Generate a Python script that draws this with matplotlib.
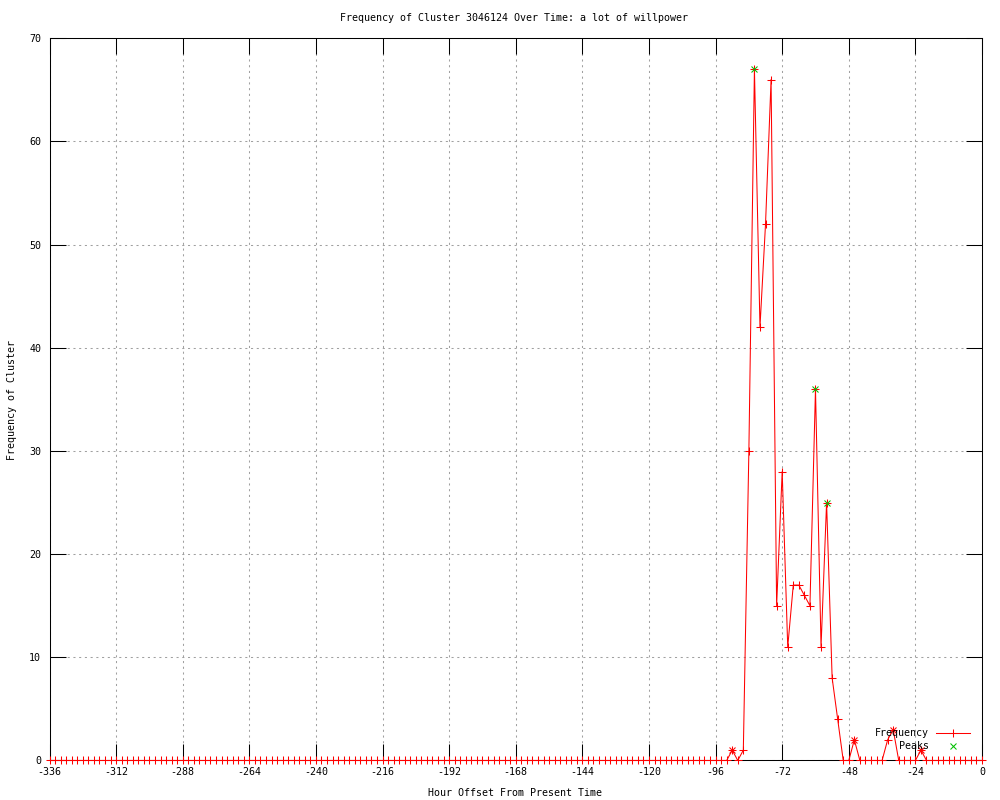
import numpy as np
import matplotlib
matplotlib.use('Agg')
import matplotlib.pyplot as plt

# hours before now, one sample every 2 hours
hours = np.arange(-336, 1, 2)

# frequency per sample, -336 .. 0
freq = [0, 0, 0, 0, 0, 0, 0, 0, 0, 0, 0, 0, 0, 0, 0, 0, 0, 0, 0, 0,
        0, 0, 0, 0, 0, 0, 0, 0, 0, 0, 0, 0, 0, 0, 0, 0, 0, 0, 0, 0,
        0, 0, 0, 0, 0, 0, 0, 0, 0, 0, 0, 0, 0, 0, 0, 0, 0, 0, 0, 0,
        0, 0, 0, 0, 0, 0, 0, 0, 0, 0, 0, 0, 0, 0, 0, 0, 0, 0, 0, 0,
        0, 0, 0, 0, 0, 0, 0, 0, 0, 0, 0, 0, 0, 0, 0, 0, 0, 0, 0, 0,
        0, 0, 0, 0, 0, 0, 0, 0, 0, 0, 0, 0, 0, 0, 0, 0, 0, 0, 0, 0,
        0, 0, 0,
        1, 0, 1, 30, 67, 42, 52, 66, 15, 28,
        11, 17, 17, 16, 15, 36, 11, 25, 8, 4,
        0, 0, 2, 0, 0, 0, 0, 0, 2, 3,
        0, 0, 0, 0, 1, 0, 0, 0, 0, 0,
        0, 0, 0, 0, 0, 0]

# detected peaks (green) and small local maxima (red x)
peak_hours = [-82, -60, -56]
peak_vals = [67, 36, 25]
small_hours = [-90, -46, -32, -22]
small_vals = [1, 2, 3, 1]

x_ticks = list(range(-336, 1, 24))
y_ticks = list(range(0, 71, 10))

title = "Frequency of Cluster 3046124 Over Time: a lot of willpower"
xlabel = "Hour Offset From Present Time"
ylabel = "Frequency of Cluster"

plt.rcParams['font.family'] = ['DejaVu Sans Mono']
plt.rcParams['font.size'] = 7.2
plt.rcParams['axes.unicode_minus'] = False

fig = plt.figure(figsize=(10, 8), dpi=100)
ax = fig.add_axes([0.0495, 0.0494, 0.9325, 0.9028])

red = '#ff0000'
green = '#00c000'

line, = ax.plot(hours, freq, color=red, lw=0.75, marker='+', ms=5.5, mew=0.75,
                clip_on=False, zorder=3)
ax.plot(small_hours, small_vals, ls='none', color=red, marker='x', ms=4.5,
        mew=0.75, zorder=4)
peaks, = ax.plot(peak_hours, peak_vals, ls='none', color=green, marker='x',
                 ms=5, mew=0.75, zorder=5)

ax.set_xlim(-336, 0)
ax.set_ylim(0, 70)
ax.set_xticks(x_ticks)
ax.set_yticks(y_ticks)

# gnuplot style ticks: inward, on all four sides
ax.tick_params(direction='in', length=11.5, width=0.75, top=True, right=True,
               colors='black', labelsize=7.2)
ax.tick_params(axis='x', pad=5)
ax.tick_params(axis='y', pad=6)
for s in ax.spines.values():
    s.set_linewidth(0.75)

ax.set_axisbelow(True)
ax.grid(True, color='#a0a0a0', lw=0.75, ls=(0, (2, 3.5)))

# legend bottom right, text right-aligned like gnuplot
leg_kw = dict(frameon=False, markerfirst=False, handlelength=3.4,
              handletextpad=0.7, borderpad=0, borderaxespad=0, numpoints=1,
              fontsize=7.2, loc='center right')
leg1 = ax.legend([line], ['Frequency'], bbox_to_anchor=(0.987, 0.038), **leg_kw)
ax.add_artist(leg1)
ax.legend([peaks], ['Peaks'], bbox_to_anchor=(0.987, 0.020), **leg_kw)

fig.text(0.5145, 1 - 18 / 800, title, ha='center', va='center')
fig.text(0.5145, 1 - 793 / 800, xlabel, ha='center', va='center')
fig.text(0.012, 0.5, ylabel, ha='center', va='center', rotation=90)

plt.savefig("out.png")
